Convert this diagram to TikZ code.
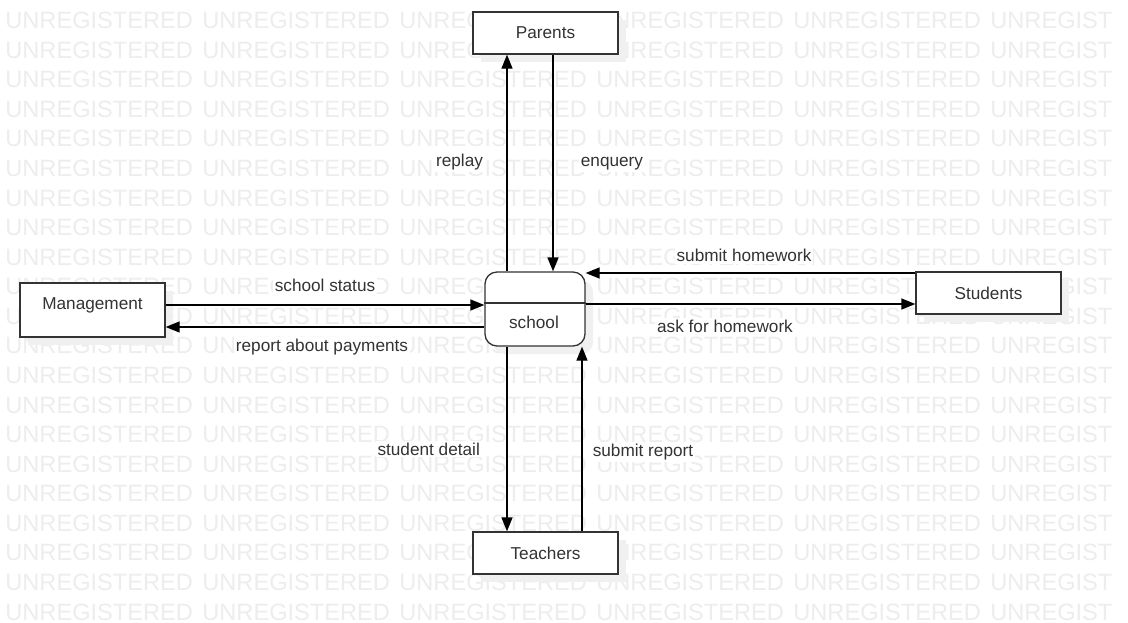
\documentclass[tikz,border=0pt]{standalone}
\usepackage{fontspec}
\setmainfont{Liberation Sans}
\usetikzlibrary{arrows.meta,shadows}

\tikzset{
  wmark/.style={text=black!7, inner sep=0pt, anchor=base west,
    font=\fontsize{23.6pt}{24pt}\selectfont},
  entity/.style={draw=black!80, line width=1.3pt, fill=white,
    minimum width=145pt, minimum height=42pt, inner sep=0pt,
    text=black!80, font=\fontsize{17.2pt}{20pt}\selectfont,
    general shadow={fill=black!6, shadow xshift=8pt, shadow yshift=-8pt}},
  process/.style={entity, rounded corners=12pt, minimum width=100pt, minimum height=74pt},
  txt/.style={text=black!80, inner sep=0pt, anchor=base,
    font=\fontsize{17.2pt}{20pt}\selectfont},
  flowlabel/.style={txt, fill=white, inner sep=2pt},
  flow/.style={draw=black, line width=1.3pt,
    -{Triangle[length=14pt,width=11pt]}},
}

\begin{document}
\begin{tikzpicture}[x=1pt, y=-1pt]
  \useasboundingbox[fill=white] (0,0) rectangle (1128,622);

  % background watermark rows
  \begin{scope}
    \clip (0,0) rectangle (1113,622);
    \foreach \r in {0,...,20} {
      \foreach \c in {0,...,5} {
        \node[wmark] (wm-\r-\c) at ({5.2+197*\c},{28.6+29.57*\r}) {UNREGISTERED};
      }
    }
  \end{scope}

  % external entities
  \node[entity] (parents)  at (545.5,33)  {Parents};
  \node[entity] (teachers) at (545.5,553) {Teachers};
  \node[entity] (students) at (988.5,293) {Students};
  \node[entity, minimum height=54pt] (mgmt) at (92.5,310) {};
  \node[txt] (mgmt-t) at (92.5,309) {Management};

  % central process
  \node[process] (school) at (535,309) {};
  \coordinate (div) at (535,303);
  \draw[draw=black!80, line width=1.3pt] (school.west |- div) -- (school.east |- div);
  \node[txt] (school-t) at (534,328.5) {school};

  % helper positions for the connector lanes
  \coordinate (lanePL) at (507,0);
  \coordinate (lanePR) at (553,0);
  \coordinate (laneTR) at (582,0);
  \coordinate (laneMS) at (0,305);
  \coordinate (laneMR) at (0,327);
  \coordinate (laneSH) at (0,273);
  \coordinate (laneSA) at (0,304);

  % Parents <-> school
  \draw[flow] (lanePL |- school.north) -- (lanePL |- parents.south);
  \draw[flow] (lanePR |- parents.south) -- (lanePR |- school.north);
  % Management <-> school
  \draw[flow] (mgmt.east |- laneMS) -- (school.west |- laneMS);
  \draw[flow] (school.west |- laneMR) -- (mgmt.east |- laneMR);
  % Students <-> school
  \draw[flow] (students.west |- laneSH) -- (school.east |- laneSH);
  \draw[flow] (school.east |- laneSA) -- (students.west |- laneSA);
  % Teachers <-> school
  \draw[flow] (lanePL |- school.south) -- (lanePL |- teachers.north);
  \draw[flow] (laneTR |- teachers.north) -- (laneTR |- school.south);

  % flow labels
  \node[flowlabel] (l-replay)   at (459.5,166)  {replay};
  \node[flowlabel] (l-enquery)  at (612,166)    {enquery};
  \node[flowlabel] (l-status)   at (325,291.7)  {school status};
  \node[flowlabel] (l-payments) at (322,351.5)  {report about payments};
  \node[flowlabel] (l-submithw) at (744,261.6)  {submit homework};
  \node[flowlabel] (l-askhw)    at (725,332.5)  {ask for homework};
  \node[flowlabel] (l-detail)   at (428.7,455)  {student detail};
  \node[flowlabel] (l-report)   at (643,456.5)  {submit report};
\end{tikzpicture}
\end{document}
